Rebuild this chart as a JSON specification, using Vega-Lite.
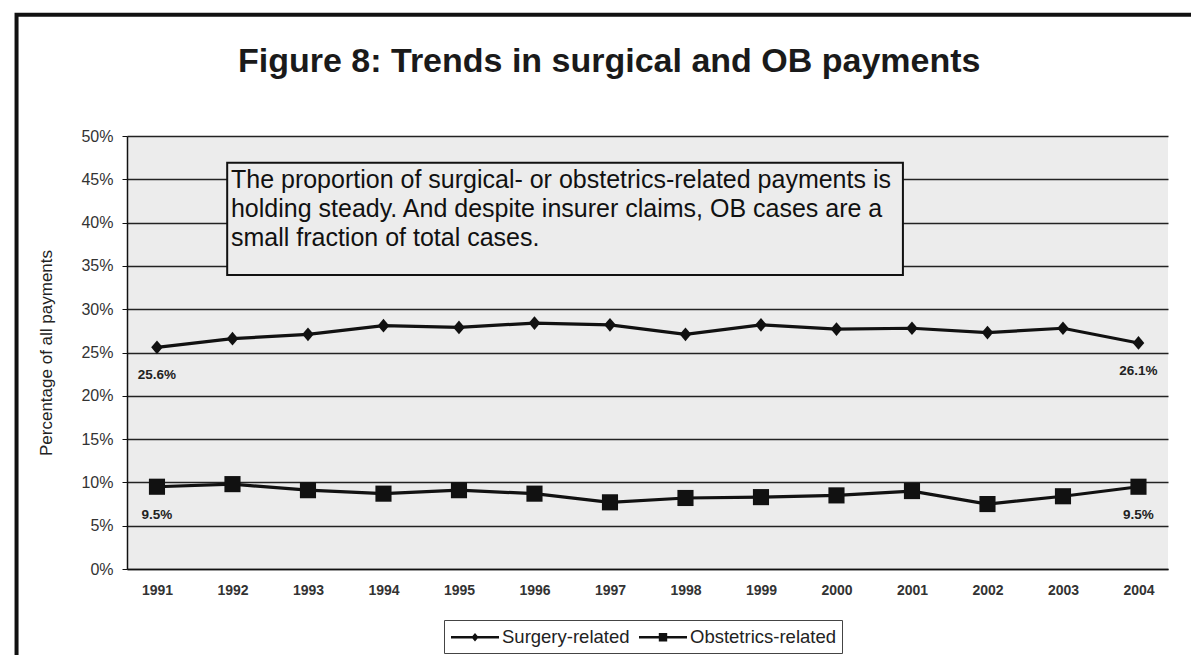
{
  "$schema": "https://vega.github.io/schema/vega-lite/v6.json",
  "width": 1041,
  "height": 433,
  "autosize": {"type": "none"},
  "padding": {"left": 127, "top": 136, "right": 23, "bottom": 86},
  "background": "white",
  "config": {
    "view": {"fill": "#ececec", "stroke": null},
    "font": "Liberation Sans"
  },
  "data": {
    "values": [
      {"year": 1991, "series": "Surgery-related", "pct": 25.6},
      {"year": 1992, "series": "Surgery-related", "pct": 26.6},
      {"year": 1993, "series": "Surgery-related", "pct": 27.1},
      {"year": 1994, "series": "Surgery-related", "pct": 28.1},
      {"year": 1995, "series": "Surgery-related", "pct": 27.9},
      {"year": 1996, "series": "Surgery-related", "pct": 28.4},
      {"year": 1997, "series": "Surgery-related", "pct": 28.2},
      {"year": 1998, "series": "Surgery-related", "pct": 27.1},
      {"year": 1999, "series": "Surgery-related", "pct": 28.2},
      {"year": 2000, "series": "Surgery-related", "pct": 27.7},
      {"year": 2001, "series": "Surgery-related", "pct": 27.8},
      {"year": 2002, "series": "Surgery-related", "pct": 27.3},
      {"year": 2003, "series": "Surgery-related", "pct": 27.8},
      {"year": 2004, "series": "Surgery-related", "pct": 26.1},
      {"year": 1991, "series": "Obstetrics-related", "pct": 9.5},
      {"year": 1992, "series": "Obstetrics-related", "pct": 9.8},
      {"year": 1993, "series": "Obstetrics-related", "pct": 9.1},
      {"year": 1994, "series": "Obstetrics-related", "pct": 8.7},
      {"year": 1995, "series": "Obstetrics-related", "pct": 9.1},
      {"year": 1996, "series": "Obstetrics-related", "pct": 8.7},
      {"year": 1997, "series": "Obstetrics-related", "pct": 7.7},
      {"year": 1998, "series": "Obstetrics-related", "pct": 8.2},
      {"year": 1999, "series": "Obstetrics-related", "pct": 8.3},
      {"year": 2000, "series": "Obstetrics-related", "pct": 8.5},
      {"year": 2001, "series": "Obstetrics-related", "pct": 9.0},
      {"year": 2002, "series": "Obstetrics-related", "pct": 7.5},
      {"year": 2003, "series": "Obstetrics-related", "pct": 8.4},
      {"year": 2004, "series": "Obstetrics-related", "pct": 9.5}
    ]
  },
  "encoding": {
    "x": {
      "field": "year",
      "type": "quantitative",
      "scale": {"domain": [1990.603, 2004.391], "nice": false, "zero": false},
      "axis": {
        "title": null,
        "values": [1991, 1992, 1993, 1994, 1995, 1996, 1997, 1998, 1999, 2000, 2001, 2002, 2003, 2004],
        "format": "d",
        "grid": false,
        "ticks": false,
        "domainColor": "#111",
        "domainWidth": 1.5,
        "labelFont": "Liberation Sans",
        "labelFontSize": 14,
        "labelFontWeight": "bold",
        "labelColor": "#333",
        "labelPadding": 14
      }
    },
    "y": {
      "field": "pct",
      "type": "quantitative",
      "scale": {"domain": [0, 50], "nice": false},
      "axis": {
        "title": "Percentage of all payments",
        "titleFont": "Liberation Sans",
        "titleFontSize": 17,
        "titleFontWeight": "normal",
        "titleColor": "#222",
        "titlePadding": 25,
        "values": [0, 5, 10, 15, 20, 25, 30, 35, 40, 45, 50],
        "labelExpr": "datum.value + '%'",
        "labelFont": "Liberation Sans",
        "labelFontSize": 16,
        "labelColor": "#333",
        "labelPadding": 9,
        "tickSize": 5,
        "tickColor": "#111",
        "domainColor": "#111",
        "domainWidth": 1.5,
        "grid": true,
        "gridColor": "#222",
        "gridWidth": 1.6,
        "gridOpacity": 1
      }
    }
  },
  "resolve": {"scale": {"shape": "independent"}, "legend": {"shape": "independent"}},
  "layer": [
    {
      "transform": [{"filter": "datum.year === 1991 && datum.series === 'Surgery-related'"}],
      "mark": {"type": "rect", "fill": null, "stroke": "#111", "strokeWidth": 4, "clip": false},
      "encoding": {
        "x": {"datum": 1989.14, "type": "quantitative"},
        "x2": {"datum": 2004.8},
        "y": {"datum": 64.0, "type": "quantitative"},
        "y2": {"datum": -12}
      }
    },
    {
      "transform": [{"filter": "datum.year === 1991 && datum.series === 'Surgery-related'"}],
      "mark": {
        "type": "text",
        "align": "center",
        "baseline": "alphabetic",
        "font": "Liberation Sans",
        "fontSize": 34,
        "fontWeight": "bold",
        "color": "#1a1a1a",
        "clip": false
      },
      "encoding": {
        "x": {"datum": 1996.99, "type": "quantitative"},
        "y": {"datum": 57.4, "type": "quantitative"},
        "text": {"value": "Figure 8: Trends in surgical and OB payments"}
      }
    },
    {
      "transform": [{"filter": "datum.year === 1991 && datum.series === 'Surgery-related'"}],
      "mark": {"type": "rect", "fill": "#ececec", "stroke": "#111", "strokeWidth": 2},
      "encoding": {
        "x": {"datum": 1991.93, "type": "quantitative"},
        "x2": {"datum": 2000.88},
        "y": {"datum": 46.9, "type": "quantitative"},
        "y2": {"datum": 33.95}
      }
    },
    {
      "transform": [{"filter": "datum.year === 1991 && datum.series === 'Surgery-related'"}],
      "mark": {
        "type": "text",
        "align": "left",
        "baseline": "top",
        "font": "Liberation Sans",
        "fontSize": 25,
        "lineHeight": 29,
        "color": "#111"
      },
      "encoding": {
        "x": {"datum": 1991.98, "type": "quantitative"},
        "y": {"datum": 46.25, "type": "quantitative"},
        "text": {"value": [
          "The proportion of surgical- or obstetrics-related payments is",
          "holding steady. And despite insurer claims, OB cases are a",
          "small fraction of total cases."
        ]}
      }
    },
    {
      "mark": {"type": "line", "color": "#111", "strokeWidth": 3.2},
      "encoding": {"detail": {"field": "series"}}
    },
    {
      "mark": {"type": "point", "filled": true, "color": "#111", "opacity": 1, "size": 260},
      "encoding": {
        "shape": {
          "field": "series",
          "type": "nominal",
          "scale": {
            "domain": ["Surgery-related", "Obstetrics-related"],
            "range": ["M0,-0.85L0.72,0L0,0.85L-0.72,0Z", "M-1,-1H1V1H-1Z"]
          },
          "legend": null
        }
      }
    },
    {
      "mark": {"type": "point", "filled": true, "color": "#111", "opacity": 0, "size": 400},
      "encoding": {
        "shape": {
          "field": "series",
          "type": "nominal",
          "scale": {
            "domain": ["Surgery-related", "Obstetrics-related"],
            "range": [
              "M-1,-0.12H3.8V0.12H-1ZM1.04,0L1.4,-0.42L1.76,0L1.4,0.42Z",
              "M-1,-0.12H3.8V0.12H-1ZM0.98,-0.42H1.82V0.42H0.98Z"
            ]
          },
          "legend": {
            "title": null,
            "orient": "none",
            "legendX": 317,
            "legendY": 484,
            "direction": "horizontal",
            "strokeColor": "#444",
            "padding": 6,
            "labelFont": "Liberation Sans",
            "labelFontSize": 18.5,
            "labelColor": "#222",
            "labelOffset": 30,
            "columnPadding": 6,
            "symbolSize": 400,
            "symbolOpacity": 1,
            "symbolFillColor": "#111"
          }
        }
      }
    },
    {
      "transform": [
        {"filter": "datum.year === 1991 || datum.year === 2004"},
        {"calculate": "format(datum.pct, '.1f') + '%'", "as": "lbl"}
      ],
      "mark": {
        "type": "text",
        "dy": 28,
        "font": "Liberation Sans",
        "fontSize": 13.5,
        "fontWeight": "bold",
        "color": "#222"
      },
      "encoding": {"text": {"field": "lbl"}}
    }
  ]
}
